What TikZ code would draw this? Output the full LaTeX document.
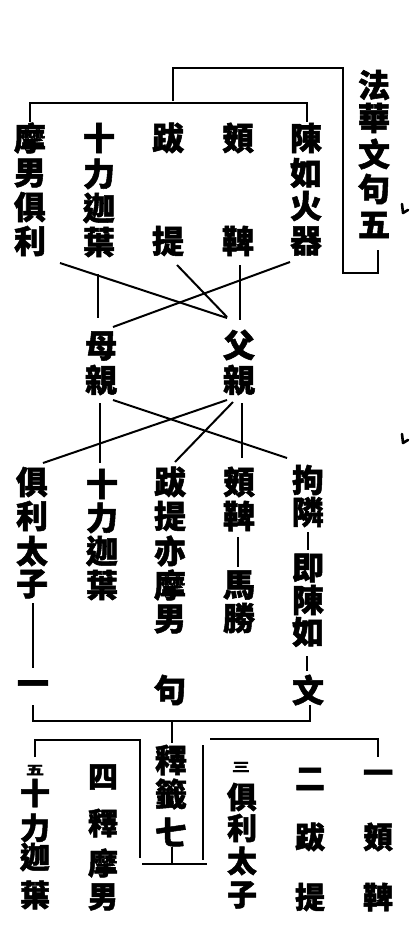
\documentclass[tikz,border=0pt]{standalone}
\usepackage{fontspec}
\newfontfamily\cjk{Noto Sans CJK TC}[BoldFeatures={FakeBold=1.6}]
\tikzset{
  ch/.style={inner sep=0pt, font=\cjk\bfseries\fontsize{32}{32}\selectfont},
  chs/.style={inner sep=0pt, font=\cjk\bfseries\fontsize{30}{30}\selectfont},
  sm/.style={inner sep=0pt, font=\cjk\bfseries\fontsize{18}{18}\selectfont, yscale=0.7},
  ln/.style={line width=2pt},
  mk/.style={line width=2.6pt, line cap=round, line join=round}
}
\begin{document}
\begin{tikzpicture}[x=1pt,y=-1pt]
\fill[white] (0,0) rectangle (411,945);
\useasboundingbox (0,0) rectangle (411,945);

% title 法華文句五
\node[ch] (t1) at (374,85) {法};
\node[ch] (t2) at (374,118) {華};
\node[ch] (t3) at (374,154) {文};
\node[ch] (t4) at (374,189) {句};
\node[ch] (t5) at (374,225) {五};

% row 1
\node[ch] (a1) at (306,138) {陳};
\node[ch] (a2) at (306,173) {如};
\node[ch] (a3) at (306,206) {火};
\node[ch] (a4) at (306,241) {器};
\node[ch] (b1) at (238,138) {頞};
\node[ch] (b2) at (238,241) {鞞};
\node[ch] (c1) at (168,138) {跋};
\node[ch] (c2) at (168,241) {提};
\node[ch] (d1) at (99,138) {十};
\node[ch] (d2) at (99,174) {力};
\node[ch] (d3) at (99,208) {迦};
\node[ch] (d4) at (99,242) {葉};
\node[ch] (e1) at (30,138) {摩};
\node[ch] (e2) at (30,173) {男};
\node[ch] (e3) at (30,207) {俱};
\node[ch] (e4) at (30,241) {利};

% middle
\node[ch] (m1) at (101,346) {母};
\node[ch] (m2) at (101,380) {親};
\node[ch] (f1) at (239,345) {父};
\node[ch] (f2) at (239,380) {親};

% row 2
\node[ch] (g1) at (32,482) {俱};
\node[ch] (g2) at (32,516) {利};
\node[ch] (g3) at (32,551) {太};
\node[ch] (g4) at (32,584) {子};
\node[ch] (g5) at (33,688) {一};
\node[ch] (h1) at (102,484) {十};
\node[ch] (h2) at (102,518) {力};
\node[ch] (h3) at (102,551) {迦};
\node[ch] (h4) at (102,585) {葉};
\node[ch] (i1) at (170,482) {跋};
\node[ch] (i2) at (170,516) {提};
\node[ch] (i3) at (170,551) {亦};
\node[ch] (i4) at (170,585) {摩};
\node[ch] (i5) at (170,619) {男};
\node[ch] (i6) at (170,690) {句};
\node[ch] (j1) at (239,482) {頞};
\node[ch] (j2) at (239,516) {鞞};
\node[ch] (j3) at (239,585) {馬};
\node[ch] (j4) at (239,618) {勝};
\node[ch] (k1) at (308,480) {拘};
\node[ch] (k2) at (308,512) {隣};
\node[ch] (k3) at (308,568) {即};
\node[ch] (k4) at (308,600) {陳};
\node[ch] (k5) at (308,632) {如};
\node[ch] (k6) at (308,690) {文};

% 釋籤七
\node[ch] (s1) at (171,760) {釋};
\node[ch] (s2) at (171,794) {籤};
\node[ch] (s3) at (171,832) {七};

% bottom row
\node[chs] (n1a) at (378,777) {一};
\node[chs] (n1b) at (378,837) {頞};
\node[chs] (n1c) at (378,897) {鞞};
\node[chs] (n2a) at (310,779) {二};
\node[chs] (n2b) at (310,837) {跋};
\node[chs] (n2c) at (310,897) {提};
\node[sm]  (n3a) at (241,767) {三};
\node[chs] (n3b) at (242,797) {俱};
\node[chs] (n3c) at (242,828) {利};
\node[chs] (n3d) at (242,861) {太};
\node[chs] (n3e) at (242,895) {子};
\node[chs] (n4a) at (103,777) {四};
\node[chs] (n4b) at (103,823) {釋};
\node[chs] (n4c) at (103,863) {摩};
\node[chs] (n4d) at (103,897) {男};
\node[sm]  (n5a) at (35,770) {五};
\node[chs] (n5b) at (35,793) {十};
\node[chs] (n5c) at (35,828) {力};
\node[chs] (n5d) at (35,857) {迦};
\node[chs] (n5e) at (35,895) {葉};

% coordinates for connector ends
\coordinate (p1) at (173,101);
\coordinate (p2) at (343,68);
\coordinate (p3) at (378,273);
\coordinate (p4) at (378,250);
\coordinate (q1) at (30,122);
\coordinate (q2) at (307,103);
\coordinate (q3) at (307,122);

\coordinate (L1a) at (60,263);  \coordinate (L1b) at (227,318);
\coordinate (L2a) at (177,265); \coordinate (L2b) at (227,317);
\coordinate (L3a) at (240,265); \coordinate (L3b) at (240,320);
\coordinate (L4a) at (290,262); \coordinate (L4b) at (113,327);
\coordinate (L5a) at (98,274);  \coordinate (L5b) at (98,318);

\coordinate (M1a) at (113,400); \coordinate (M1b) at (287,458);
\coordinate (M2a) at (100,403); \coordinate (M2b) at (100,463);
\coordinate (F1a) at (227,400); \coordinate (F1b) at (43,463);
\coordinate (F2a) at (233,402); \coordinate (F2b) at (175,462);
\coordinate (F3a) at (242,403); \coordinate (F3b) at (242,458);

\coordinate (r1) at (33,603);  \coordinate (r2) at (33,668);
\coordinate (r3) at (238,537); \coordinate (r4) at (238,567);
\coordinate (r5) at (308,532); \coordinate (r6) at (308,550);
\coordinate (r7) at (307,656); \coordinate (r8) at (307,671);

\coordinate (u1) at (33,705);  \coordinate (u2) at (310,721); \coordinate (u3) at (310,705);
\coordinate (u4) at (172,721); \coordinate (u5) at (172,743);

\coordinate (v1) at (35,757);  \coordinate (v2) at (140,740); \coordinate (v3) at (140,858);
\coordinate (w1) at (210,739); \coordinate (w2) at (378,757);
\coordinate (x1) at (203,745); \coordinate (x2) at (203,860);
\coordinate (y1) at (142,864); \coordinate (y2) at (207,864);
\coordinate (z1) at (172,847); \coordinate (z2) at (172,864);

% brackets
\draw[ln] (p1) |- (p2) |- (p3) -- (p4);
\draw[ln] (q1) |- (q2) -- (q3);
\draw[ln] (u1) |- (u2) -- (u3);
\draw[ln] (u4) -- (u5);
\draw[ln] (v1) |- (v2) -- (v3);
\draw[ln] (w1) -| (w2);
\draw[ln] (x1) -- (x2);
\draw[ln] (y1) -- (y2);
\draw[ln] (z1) -- (z2);

% crossing lines upper
\draw[ln] (L1a) -- (L1b);
\draw[ln] (L2a) -- (L2b);
\draw[ln] (L3a) -- (L3b);
\draw[ln] (L4a) -- (L4b);
\draw[ln] (L5a) -- (L5b);

% crossing lines lower
\draw[ln] (M1a) -- (M1b);
\draw[ln] (M2a) -- (M2b);
\draw[ln] (F1a) -- (F1b);
\draw[ln] (F2a) -- (F2b);
\draw[ln] (F3a) -- (F3b);

% dashes inside columns
\draw[ln] (r1) -- (r2);
\draw[ln] (r3) -- (r4);
\draw[ln] (r5) -- (r6);
\draw[ln] (r7) -- (r8);

% small marks at right edge
\draw[mk] (402,204) -- (403,213) -- (408,210);
\draw[mk] (402,434) -- (403,443) -- (408,440);
\end{tikzpicture}
\end{document}
